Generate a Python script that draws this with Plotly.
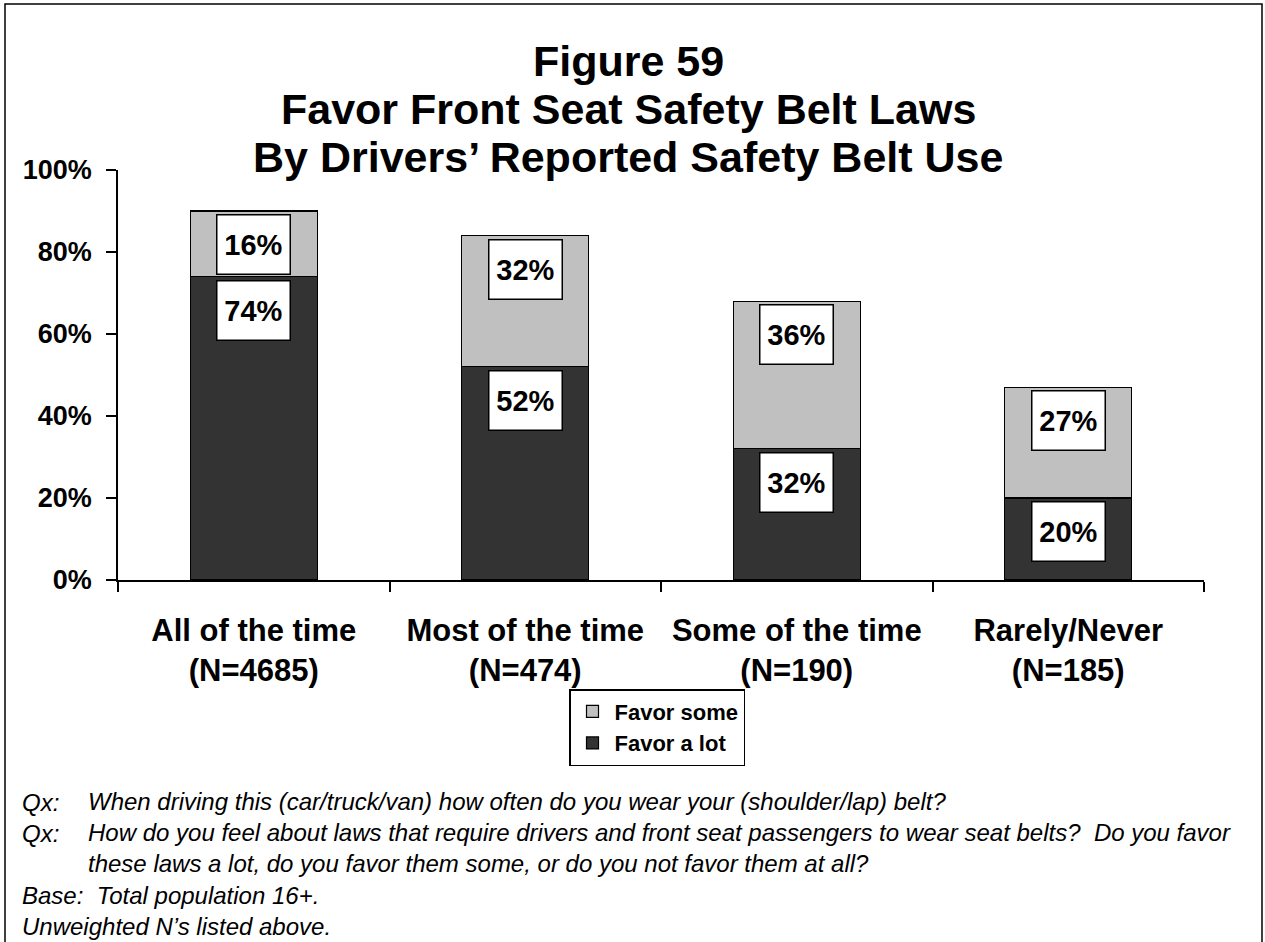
import plotly.graph_objects as go

# ---------------- data ----------------
categories = ["All of the time", "Most of the time", "Some of the time", "Rarely/Never"]
sample_sizes = ["(N=4685)", "(N=474)", "(N=190)", "(N=185)"]
favor_a_lot = [74, 52, 32, 20]
favor_some = [16, 32, 36, 27]
y_ticks = [0, 20, 40, 60, 80, 100]

title_lines = ["Figure 59", "Favor Front Seat Safety Belt Laws", "By Drivers\u2019 Reported Safety Belt Use"]
footnotes = [
    ("Qx:", "When driving this (car/truck/van) how often do you wear your (shoulder/lap) belt?"),
    ("Qx:", "How do you feel about laws that require drivers and front seat passengers to wear seat belts?  Do you favor"
            "<br>these laws a lot, do you favor them some, or do you not favor them at all?"),
    ("Base:  Total population 16+.", ""),
    ("Unweighted N\u2019s listed above.", ""),
]

DARK = "#333333"
LIGHT = "#C0C0C0"
FONT = "Arial, Liberation Sans, sans-serif"

W, H = 1265, 942
L, R, T, B = 118, 61, 170, 362
PW, PH = W - L - R, H - T - B


def px_x(x):
    return (x - L) / PW


def px_y(y):
    return (H - B - y) / PH


xlabels = [f"{c}<br>{n}" for c, n in zip(categories, sample_sizes)]

fig = go.Figure()
fig.add_trace(go.Bar(x=xlabels, y=favor_a_lot, name="Favor a lot",
                     marker=dict(color=DARK, line=dict(color="black", width=1.2))))
fig.add_trace(go.Bar(x=xlabels, y=favor_some, name="Favor some",
                     marker=dict(color=LIGHT, line=dict(color="black", width=1.2))))

# boxed value labels at the top of each segment
for i, x in enumerate(xlabels):
    tops = [favor_a_lot[i], favor_a_lot[i] + favor_some[i]]
    vals = [favor_a_lot[i], favor_some[i]]
    for top, v in zip(tops, vals):
        fig.add_annotation(x=x, y=top, xref="x", yref="y", yanchor="top", yshift=-3,
                           text=f"<b>{v}%</b>", showarrow=False,
                           font=dict(family=FONT, size=29, color="black"),
                           bgcolor="white", bordercolor="black", borderwidth=1.5,
                           borderpad=2, width=68, height=54, align="center", valign="middle")

# title
for line, yc in zip(title_lines, [61, 109, 157]):
    fig.add_annotation(x=px_x(628), y=px_y(yc), xref="paper", yref="paper",
                       xanchor="center", yanchor="middle", showarrow=False,
                       text=f"<b>{line}</b>", font=dict(family=FONT, size=43, color="black"))

# footnotes (y = centre of first line)
foot_y = [802, 833, 895, 926]
for (a, b), yc in zip(footnotes, foot_y):
    if a:
        fig.add_annotation(x=px_x(20), y=px_y(yc), xref="paper", yref="paper",
                           xanchor="left", yanchor="middle", showarrow=False,
                           text=f"<i>{a}</i>", font=dict(family=FONT, size=24, color="black"))
    if b:
        fig.add_annotation(x=px_x(86), y=px_y(yc - 16), xref="paper", yref="paper",
                           xanchor="left", yanchor="top", showarrow=False, align="left",
                           text=f"<i>{b}</i>", font=dict(family=FONT, size=24, color="black"))

# outer frame
fig.add_shape(type="rect", xref="paper", yref="paper",
              x0=px_x(5), x1=px_x(1262), y0=px_y(960), y1=px_y(4),
              line=dict(color="black", width=1.5), fillcolor="rgba(0,0,0,0)", layer="below")

fig.update_layout(
    width=W, height=H,
    margin=dict(l=L, r=R, t=T, b=B, autoexpand=False),
    barmode="stack", bargap=0.532,
    plot_bgcolor="white", paper_bgcolor="white",
    font=dict(family=FONT, color="black"),
    showlegend=True,
    legend=dict(x=px_x(657), y=px_y(689), xanchor="center", yanchor="top",
                traceorder="reversed", bordercolor="black", borderwidth=1.5,
                bgcolor="white", font=dict(family=FONT, size=22, weight="bold"),
                itemwidth=34, tracegroupgap=0),
    xaxis=dict(showline=True, linecolor="black", linewidth=1.5, ticks="outside",
               ticklen=10, tickcolor="black", tickwidth=1.5, tickson="boundaries",
               tickfont=dict(family=FONT, size=31, weight="bold"), showgrid=False,
               ticklabelstandoff=22),
    yaxis=dict(range=[0, 100], tickmode="array", tickvals=y_ticks,
               ticktext=[f"{v}%" for v in y_ticks], showline=True,
               linecolor="black", linewidth=1.5, ticks="outside", ticklen=10,
               tickcolor="black", tickwidth=1.5, showgrid=False, zeroline=False,
               tickfont=dict(family=FONT, size=27, weight="bold"), ticklabelstandoff=9),
)

fig.write_html("out.html", config={"displayModeBar": False},
               post_script="document.body.style.margin='0';document.body.style.overflow='hidden';")
